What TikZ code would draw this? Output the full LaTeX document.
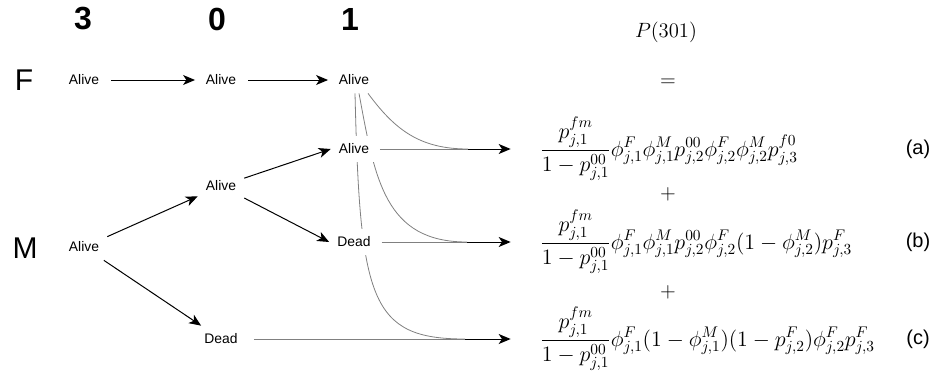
\RequirePackage{fix-cm}
\documentclass[tikz,border=0pt]{standalone}
\usepackage{amsmath}
\usepackage{fontspec}
\newfontfamily\helv{Liberation Sans}
\usepackage{tikz}
\usetikzlibrary{arrows.meta,calc,backgrounds}
\definecolor{curvegrey}{RGB}{128,128,128}
\newcommand{\leadfrac}{\frac{p^{fm}_{j,1}}{1-p^{00}_{j,1}}}

\begin{document}
\begin{tikzpicture}[x=0.75pt,y=-0.75pt,>={Stealth[length=9pt,width=7.5pt,inset=2.5pt]},
    state/.style={fill=white,inner sep=6pt,font=\helv\fontsize{10.4}{12}\selectfont},
    occ/.style={font=\helv\bfseries\fontsize{24}{28}\selectfont},
    sex/.style={font=\helv\fontsize{22.5}{26}\selectfont},
    eq/.style={inner sep=0pt,anchor=west,font=\fontsize{16.5}{19}\selectfont},
    sym/.style={inner sep=0pt,font=\fontsize{15.5}{18}\selectfont},
    tag/.style={font=\helv\fontsize{15}{18}\selectfont},
    arr/.style={->,line width=0.75pt},
    gline/.style={draw=curvegrey,line width=0.6pt}]
    \useasboundingbox (0,0) rectangle (938,371);
    % capture history
    \node[occ] (h3) at (83,19) {3};
    \node[occ] (h0) at (217,19) {0};
    \node[occ] (h1) at (350,19) {1};
    \node[sex] (lf) at (24,80) {F};
    \node[sex] (lm) at (25,248) {M};
    % female
    \node[state] (f3) at (84,80) {Alive};
    \node[state] (f0) at (221,80) {Alive};
    \node[state] (f1) at (354,80) {Alive};
    % male
    \node[state] (m3) at (84,247) {Alive};
    \node[state] (ma0) at (221,186) {Alive};
    \node[state] (md0) at (221,339) {Dead};
    \node[state] (ma1) at (354,149) {Alive};
    \node[state] (md1) at (354,242) {Dead};
    % terms
    \node[sym] (prob) at (666,32) {$P(301)$};
    \node[sym] (eqs) at (668,83) {$=$};
    \node[eq] (ta) at (540,149) {$\displaystyle\leadfrac\phi^F_{j,1}\phi^M_{j,1}p^{00}_{j,2}\phi^F_{j,2}\phi^M_{j,2}p^{f0}_{j,3}$};
    \node[sym] (pl1) at (668,194) {$+$};
    \node[eq] (tb) at (540,242) {$\displaystyle\leadfrac\phi^F_{j,1}\phi^M_{j,1}p^{00}_{j,2}\phi^F_{j,2}(1-\phi^M_{j,2})p^F_{j,3}$};
    \node[sym] (pl2) at (668,292) {$+$};
    \node[eq] (tc) at (540,339) {$\displaystyle\leadfrac\phi^F_{j,1}(1-\phi^M_{j,1})(1-p^F_{j,2})\phi^F_{j,2}p^F_{j,3}$};
    \node[tag] (la) at (918,149) {(a)};
    \node[tag] (lb) at (918,242) {(b)};
    \node[tag] (lc) at (918,339) {(c)};
    \coordinate (ja) at (468,149);
    \coordinate (jb) at (467,242);
    \coordinate (jc) at (465,339);
    \draw[arr,shorten <=3pt,shorten >=2pt] (f3) -- (f0);
    \draw[arr,shorten <=3pt,shorten >=2pt] (f0) -- (f1);
    \draw[arr] (m3) -- (ma0);
    \draw[arr] (m3) -- (md0);
    \draw[arr] (ma0) -- (ma1.west);
    \draw[arr] (ma0) -- (md1.west);
    \draw[gline,shorten <=2pt] (ma1) -- (ja);
    \draw[gline,shorten <=2pt] (md1) -- (jb);
    \draw[gline,shorten <=6pt] (md0) -- (jc);
    \draw[arr,shorten >=22pt] (ja) -- (ta);
    \draw[arr,shorten >=22pt] (jb) -- (tb);
    \draw[arr,shorten >=22pt] (jc) -- (tc);
    \begin{scope}[on background layer]
      \draw[gline] ($(f1.south)+(14,0)$) .. controls (395,130) and (420,149) .. (ja);
      \draw[gline] ($(f1.south)+(5,0)$) .. controls (375,180) and (385,242) .. (jb);
      \draw[gline] ($(f1.south)+(1,0)$) .. controls (360,300) and (370,339) .. (jc);
    \end{scope}
  \end{tikzpicture}
\end{document}
